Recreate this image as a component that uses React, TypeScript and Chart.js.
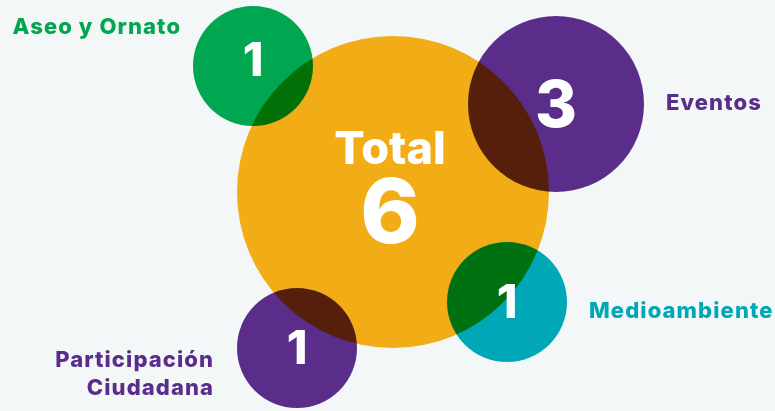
import React, { useEffect, useRef } from "react";
import { Chart, registerables } from "chart.js";

Chart.register(...registerables);

const categories = ["Total", "Aseo y Ornato", "Eventos", "Medioambiente", "Participación Ciudadana"];
const values = [6, 1, 3, 1, 1];
const xPos = [393, 253, 556, 507, 297];
const yPos = [192, 66, 104, 302, 348];
const bubbleR = [156, 60, 88, 60, 60];
const colors = ["#f2ac16", "#00a650", "#5a2d8b", "#00a7b7", "#5a2d8b"];

const FONT = "Inter, 'Noto Sans', sans-serif";

const multiplyPlugin = {
  id: "multiply",
  beforeDatasetsDraw(chart: any) {
    chart.ctx.save();
    chart.ctx.globalCompositeOperation = "multiply";
  },
  afterDatasetsDraw(chart: any) {
    chart.ctx.restore();
  },
};

const LS = 1.1;

const labelsPlugin = {
  id: "bubbleLabels",
  afterDraw(chart: any) {
    const ctx = chart.ctx;
    const meta = chart.getDatasetMeta(0);
    ctx.save();
    ctx.textBaseline = "alphabetic";
    meta.data.forEach((el: any, i: number) => {
      const { x, y } = el.getProps(["x", "y"], true);
      const r = bubbleR[i];
      ctx.fillStyle = "#ffffff";
      ctx.textAlign = "center";
      (ctx as any).letterSpacing = "0px";
      if (i === 0) {
        ctx.font = `800 45px ${FONT}`;
        ctx.fillText(categories[0], x - 3, y - 28);
        ctx.font = `800 90px ${FONT}`;
        ctx.fillText(String(values[0]), x - 3, y + 51);
        return;
      }
      const big = values[i] >= 3;
      ctx.font = `800 ${big ? 64 : 47}px ${FONT}`;
      const numOff = i === 1 ? 10 : i === 2 ? 23 : 16;
      ctx.fillText(String(values[i]), x, y + numOff);
      ctx.fillStyle = colors[i];
      ctx.font = `800 22px ${FONT}`;
      (ctx as any).letterSpacing = `${LS}px`;
      if (i === 1) {
        ctx.textAlign = "right";
        ctx.fillText(categories[i], x - r - 13 + LS, y - 32);
      } else if (i === 2 || i === 3) {
        ctx.textAlign = "left";
        ctx.fillText(categories[i], x + r + 22, y + (i === 2 ? 6 : 16));
      } else {
        ctx.textAlign = "right";
        const parts = categories[i].split(" ");
        ctx.fillText(parts[0], x - r - 24 + LS, y + 19);
        ctx.fillText(parts[1], x - r - 24 + LS, y + 47);
      }
    });
    ctx.restore();
  },
};

export default function App() {
  const ref = useRef<HTMLCanvasElement>(null);
  useEffect(() => {
    document.body.style.margin = "0";
    document.body.style.background = "#f3f7f8";
    const chart = new Chart(ref.current!, {
      type: "bubble",
      data: {
        datasets: [
          {
            label: "Total",
            data: values.map((v, i) => ({ x: xPos[i], y: yPos[i], r: bubbleR[i] })),
            backgroundColor: colors,
            borderWidth: 0,
            hoverRadius: 0,
            hoverBorderWidth: 0,
            clip: false as any,
          },
        ],
      },
      options: {
        animation: false,
        responsive: true,
        maintainAspectRatio: false,
        layout: { padding: 0, autoPadding: false },
        events: [],
        plugins: { legend: { display: false }, tooltip: { enabled: false } },
        scales: {
          x: { type: "linear", min: 0, max: 775, display: false },
          y: { type: "linear", min: 0, max: 411, reverse: true, display: false },
        },
      },
      plugins: [multiplyPlugin, labelsPlugin],
    });
    return () => chart.destroy();
  }, []);
  return (
    <div style={{ position: "absolute", left: 0, top: 0, width: 775, height: 411, background: "#f3f7f8" }}>
      <canvas ref={ref} />
    </div>
  );
}
